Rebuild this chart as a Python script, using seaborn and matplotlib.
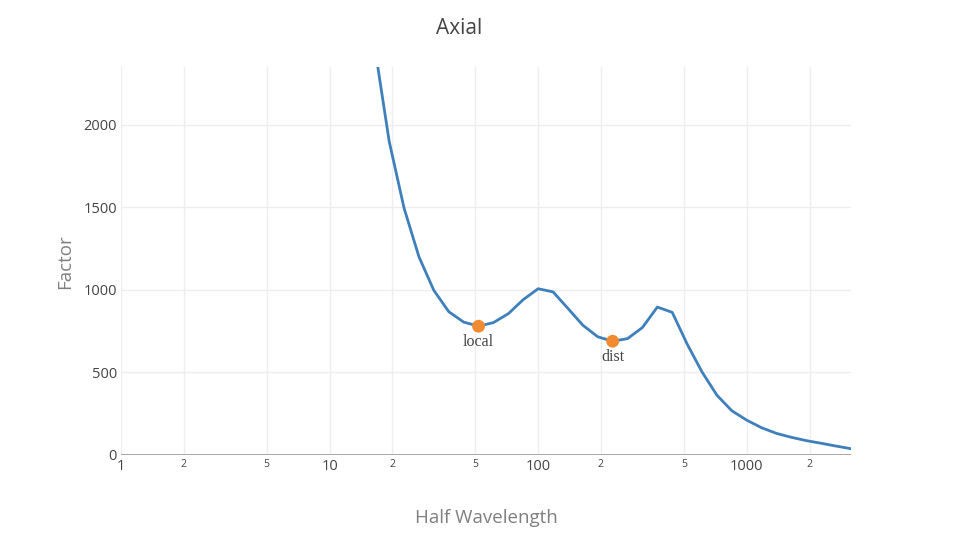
import numpy as np
import pandas as pd
import matplotlib
matplotlib.use("Agg")
import matplotlib.pyplot as plt
import seaborn as sns

# --------------------------------------------
# Data
# --------------------------------------------
half_wavelength = [16.38, 19.31, 22.76, 26.83, 31.62, 37.28, 43.94, 51.79,
                   61.05, 71.97, 84.83, 100.0, 117.9, 138.9, 163.8, 193.1,
                   227.6, 268.3, 316.2, 372.8, 439.4, 518.0, 610.5, 719.7,
                   848.3, 1000.0, 1179.0, 1389.0, 1638.0, 1931.0, 2276.0,
                   2683.0, 3162.0]
factor = [2490, 1900, 1495, 1200, 997, 868, 805, 780,
          802, 856, 941, 1007, 988, 888, 786, 716,
          689, 705, 772, 896, 864, 672, 503, 362,
          268, 211, 165, 131, 107, 87, 71, 54, 38]

marker_names = ["local", "dist"]
marker_x = [51.79, 227.6]
marker_y = [780, 689]

x_major = [1, 10, 100, 1000]
x_major_labels = ["1", "10", "100", "1000"]
x_minor = [2, 5, 20, 50, 200, 500, 2000]
x_minor_labels = ["2", "5", "2", "5", "2", "5", "2"]
y_ticks = [0, 500, 1000, 1500, 2000]

curve = pd.DataFrame({"Half Wavelength": half_wavelength, "Factor": factor})
points = pd.DataFrame({"name": marker_names, "x": marker_x, "y": marker_y})

# --------------------------------------------
# Style
# --------------------------------------------
sns.set_theme(style="white")
plt.rcParams["font.family"] = ["Open Sans", "DejaVu Sans"]

fig = plt.figure(figsize=(9.58, 5.5), dpi=100)
ax = fig.add_axes([121 / 958, 1 - 455 / 550, 730 / 958, 388 / 550])

ax.set_xscale("log")
ax.set_xlim(1, 3162)
ax.set_ylim(0, 2350)

sns.lineplot(data=curve, x="Half Wavelength", y="Factor", ax=ax,
             color="#3f7fbc", linewidth=2.0, zorder=3)
sns.scatterplot(data=points, x="x", y="y", ax=ax, color="#f28a32",
                s=85, edgecolor="none", zorder=4)

for name, px, py in zip(marker_names, marker_x, marker_y):
    ax.annotate(name, (px, py), xytext=(0, -11.5), textcoords="offset points",
                ha="center", va="center", fontsize=11.5,
                family=["Liberation Serif", "DejaVu Serif"], color="#444444")

# ticks and grid
ax.set_xticks(x_major)
ax.set_xticklabels(x_major_labels, fontsize=10.5, color="#444444")
ax.set_xticks(x_minor, minor=True)
ax.set_xticklabels(x_minor_labels, minor=True, fontsize=7.5, color="#444444")
ax.set_yticks(y_ticks)
ax.set_yticklabels([str(v) for v in y_ticks], fontsize=10.5, color="#444444")
ax.tick_params(axis="both", which="both", length=0)
ax.tick_params(axis="x", which="both", pad=3)
ax.tick_params(axis="y", pad=3)

ax.grid(True, which="both", color="#eeeeee", linewidth=1)
ax.axhline(0, color="#a0a0a0", linewidth=2, zorder=2)
for side in ["top", "right", "left", "bottom"]:
    ax.spines[side].set_visible(False)

ax.set_xlabel("")
ax.set_ylabel("")

fig.text(459 / 958, 1 - 29 / 550, "Axial", ha="center", va="center",
         fontsize=15, color="#444444")
fig.text(65 / 958, 1 - 262 / 550, "Factor", ha="center", va="center",
         rotation=90, fontsize=13.5, color="#7f7f7f")
fig.text(486 / 958, 1 - 518 / 550, "Half Wavelength", ha="center",
         va="center", fontsize=13.5, color="#7f7f7f")

fig.savefig("out.png", dpi=100)
